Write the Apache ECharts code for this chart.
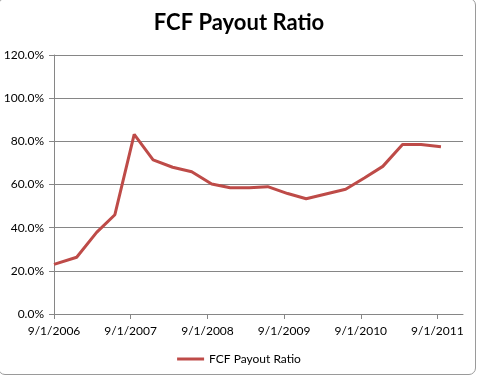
<!DOCTYPE html>
<html>
<head>
<meta charset="utf-8">
<script src="https://cdn.jsdelivr.net/npm/echarts@6/dist/echarts.min.js"></script>
<style>
html,body{margin:0;padding:0;background:#fff;overflow:hidden;}
#chart{position:absolute;left:0;top:0;width:478px;height:377px;}
#frame{position:absolute;left:-2px;top:-2px;width:476px;height:375px;border:1px solid #9a9a9a;border-radius:7px;pointer-events:none;}
</style>
</head>
<body>
<div id="chart"></div>
<div id="frame"></div>
<script>
const seriesName = 'FCF Payout Ratio';
const dates = ['2006-09-01','2006-12-18','2007-03-23','2007-06-18','2007-09-18','2007-12-17','2008-03-19','2008-06-18','2008-09-21','2008-12-18','2009-03-19','2009-06-15','2009-09-18','2009-12-15','2010-03-19','2010-06-21','2010-09-18','2010-12-15','2011-03-19','2011-06-15','2011-09-18'];
const payout = [23.0, 26.3, 37.8, 46.0, 83.2, 71.4, 68.0, 65.9, 60.2, 58.5, 58.5, 59.0, 55.8, 53.4, 55.6, 57.8, 63.0, 68.4, 78.5, 78.5, 77.5];
const tickDates = ['2006-09-01','2007-09-01','2008-09-01','2009-09-01','2010-09-01','2011-09-01'];
const tickLabels = ['9/1/2006','9/1/2007','9/1/2008','9/1/2009','9/1/2010','9/1/2011'];
const xMin = '2006-09-01';
const xMax = '2012-01-01';

const tickValues = tickDates.map(d => Date.parse(d));
const font = 'Lato, "Open Sans", sans-serif';
const chart = echarts.init(document.getElementById('chart'));
chart.setOption({
  animation: false,
  backgroundColor: 'transparent',
  title: {
    text: 'FCF Payout Ratio',
    left: 'center',
    top: 7,
    textStyle: {fontFamily: font, fontWeight: 'bold', fontSize: 22, color: '#000'}
  },
  grid: {left: 54, right: 15, top: 55, bottom: 63},
  legend: {
    bottom: 7,
    left: 'center',
    icon: 'rect',
    itemWidth: 27,
    itemHeight: 3,
    textStyle: {fontFamily: font, fontSize: 12, color: '#000'},
    data: [seriesName]
  },
  xAxis: {
    type: 'value',
    min: Date.parse(xMin),
    max: Date.parse(xMax),
    splitLine: {show: false},
    axisLine: {show: true, lineStyle: {color: '#868686', width: 1}},
    axisTick: {show: true, length: 5, customValues: tickValues, lineStyle: {color: '#868686'}},
    axisLabel: {
      customValues: tickValues,
      margin: 11,
      fontFamily: font, fontSize: 12, color: '#000',
      formatter: v => tickLabels[tickValues.indexOf(v)] || ''
    }
  },
  yAxis: {
    type: 'value',
    min: 0, max: 120, interval: 20,
    axisLine: {show: true, lineStyle: {color: '#868686', width: 1}},
    axisTick: {show: true, length: 5, lineStyle: {color: '#868686'}},
    splitLine: {show: true, lineStyle: {color: '#868686', width: 1}},
    axisLabel: {
      margin: 10,
      fontFamily: font, fontSize: 12, color: '#000',
      formatter: v => v.toFixed(1) + '%'
    }
  },
  series: [{
    name: seriesName,
    type: 'line',
    showSymbol: false,
    symbol: 'none',
    color: '#BE4B48',
    lineStyle: {width: 3, color: '#BE4B48'},
    data: dates.map((d, i) => [Date.parse(d), payout[i]])
  }]
});
</script>
</body>
</html>
